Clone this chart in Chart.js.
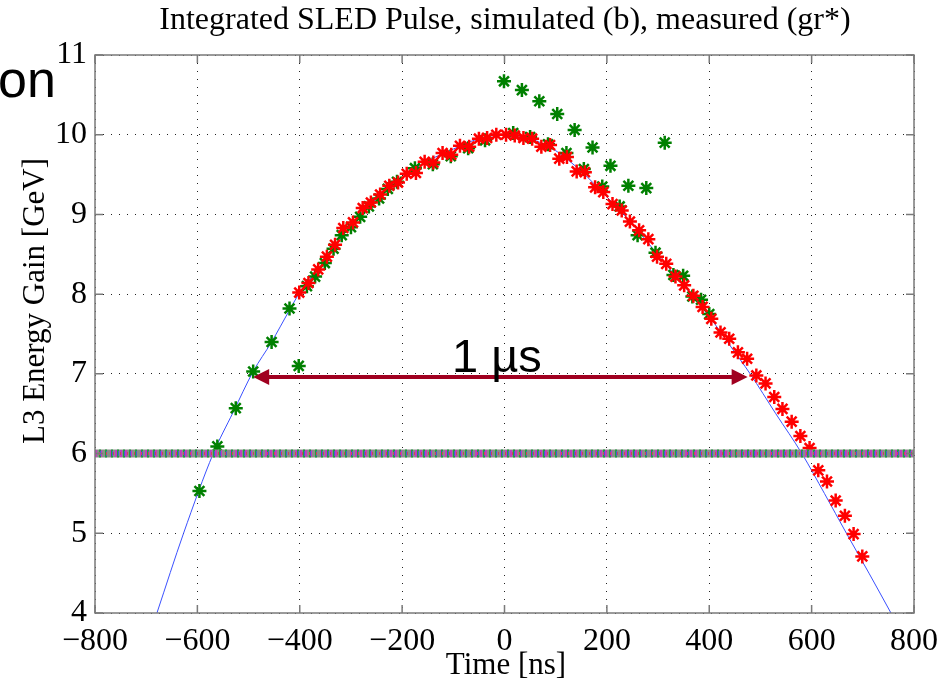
<!DOCTYPE html>
<html>
<head>
<meta charset="utf-8">
<script src="https://cdn.jsdelivr.net/npm/chart.js@4"></script>
<style>
html, body { margin: 0; padding: 0; background: #fff; }
#wrap { width: 939px; height: 682px; position: relative; }
</style>
</head>
<body>
<div id="wrap"><canvas id="c"></canvas></div>
<script>
// tick values
const xTickVals = [-800, -600, -400, -200, 0, 200, 400, 600, 800];
const yTickVals = [4, 5, 6, 7, 8, 9, 10, 11];

// simulated pulse (blue line)
const simT = [-679, -627, -569, -530, -491, -455, -420, -400, -350, -300, -250, -200, -150, -100, -50, 0,
              50, 100, 150, 200, 250, 300, 350, 400, 440, 480, 530, 581, 625, 668, 712, 755];
const simE = [4.0, 5.0, 6.0, 6.52, 7.03, 7.40, 7.80, 8.02, 8.42, 8.87, 9.20, 9.46, 9.67, 9.82, 9.95, 10.0,
              9.95, 9.80, 9.54, 9.22, 8.88, 8.49, 8.11, 7.72, 7.36, 7.00, 6.50, 6.00, 5.50, 5.00, 4.50, 4.00];

// measured, red stars
const redT = [-401, -383, -364, -347, -331, -315, -296, -277, -261, -243, -225, -208, -191, -173, -156, -139,
              -121, -104, -87, -69, -50, -34, -16, 3, 20, 37, 54, 72, 89, 107, 122, 141, 157, 177, 193, 211,
              229, 245, 263, 281, 298, 316, 334, 351, 369, 387, 404, 422, 439, 456, 474, 492, 510, 527, 543,
              561, 578, 596, 613, 630, 647, 665, 682, 699];
const redE = [8.02, 8.14, 8.31, 8.47, 8.62, 8.83, 8.90, 9.08, 9.15, 9.25, 9.36, 9.40, 9.51, 9.52, 9.66, 9.65,
              9.77, 9.75, 9.86, 9.85, 9.95, 9.96, 10.0, 10.0, 9.99, 9.96, 9.95, 9.85, 9.87, 9.70, 9.72, 9.54,
              9.53, 9.34, 9.28, 9.13, 9.05, 8.91, 8.80, 8.69, 8.47, 8.38, 8.22, 8.11, 7.98, 7.84, 7.69, 7.52,
              7.44, 7.27, 7.19, 6.98, 6.88, 6.71, 6.56, 6.40, 6.22, 6.07, 5.79, 5.65, 5.41, 5.22, 4.99, 4.71];

// measured, green stars
const greenT = [-596, -561, -525, -491, -455, -420, -402, -386, -370, -351, -334, -318, -300, -282, -265, -245,
                -228, -210, -175, -140, -105, -71, -38, -1, 17, 34, 50, 68, 85, 103, 121, 137, 155, 172, 191,
                207, 225, 242, 260, 277, 295, 313, 330, 349, 367, 384, 400];
const greenE = [5.53, 6.09, 6.57, 7.03, 7.40, 7.82, 7.10, 8.10, 8.22, 8.39, 8.57, 8.74, 8.84, 8.97, 9.10, 9.20,
                9.32, 9.41, 9.58, 9.63, 9.73, 9.83, 9.93, 10.67, 10.02, 10.56, 9.97, 10.42, 9.88, 10.26, 9.77,
                10.06, 9.57, 9.84, 9.35, 9.61, 9.10, 9.36, 8.74, 9.33, 8.52, 9.90, 8.24, 8.23, 7.97, 7.93, 7.75];

// 6 GeV band and the 1 us arrow
const bandT = [-800, 800];
const bandE = [6, 6];
const arrowT = [-491, 475];
const arrowE = 6.96;

const serif = '"Liberation Serif", "Times New Roman", serif';
const sans = '"Liberation Sans", Arial, sans-serif';

function pts(xs, ys) {
    return xs.map((v, i) => ({ x: v, y: ys[i] }));
}
function fmt(v) {
    return v < 0 ? '\u2212' + Math.abs(v) : String(v);
}

function bandSet(color, width, dash, offset) {
    return {
        type: 'line', data: pts(bandT, bandE), borderColor: color, borderWidth: width,
        borderDash: dash, borderDashOffset: offset || 0, pointRadius: 0, fill: false
    };
}

const deco = {
    id: 'deco',
    afterDatasetsDraw(chart) {
        const { ctx, chartArea: a, scales: { x, y } } = chart;
        ctx.save();

        // arrow
        const ay = y.getPixelForValue(arrowE);
        const x1 = x.getPixelForValue(arrowT[0]);
        const x2 = x.getPixelForValue(arrowT[1]);
        ctx.strokeStyle = '#a00020';
        ctx.fillStyle = '#a00020';
        ctx.lineWidth = 4;
        ctx.beginPath();
        ctx.moveTo(x1 + 10, ay);
        ctx.lineTo(x2 - 10, ay);
        ctx.stroke();
        ctx.beginPath();
        ctx.moveTo(x1, ay); ctx.lineTo(x1 + 16, ay - 8); ctx.lineTo(x1 + 16, ay + 8); ctx.closePath();
        ctx.moveTo(x2, ay); ctx.lineTo(x2 - 16, ay - 8); ctx.lineTo(x2 - 16, ay + 8); ctx.closePath();
        ctx.fill();

        ctx.fillStyle = '#000';
        ctx.font = '47px ' + sans;
        ctx.textAlign = 'center';
        ctx.textBaseline = 'alphabetic';
        ctx.fillText('1 \u00b5s', x.getPixelForValue(-15), y.getPixelForValue(7.02));

        // box and inward ticks
        ctx.strokeStyle = '#7a7a7a';
        ctx.lineWidth = 1.5;
        ctx.strokeRect(a.left, a.top, a.right - a.left, a.bottom - a.top);
        ctx.beginPath();
        xTickVals.forEach(v => {
            const px = x.getPixelForValue(v);
            ctx.moveTo(px, a.bottom); ctx.lineTo(px, a.bottom - 8);
            ctx.moveTo(px, a.top); ctx.lineTo(px, a.top + 8);
        });
        yTickVals.forEach(v => {
            const py = y.getPixelForValue(v);
            ctx.moveTo(a.left, py); ctx.lineTo(a.left + 8, py);
            ctx.moveTo(a.right, py); ctx.lineTo(a.right - 8, py);
        });
        ctx.stroke();
        ctx.restore();
    },
    afterDraw(chart) {
        const { ctx } = chart;
        ctx.save();
        ctx.fillStyle = '#000';
        ctx.textBaseline = 'alphabetic';
        ctx.textAlign = 'center';
        ctx.font = '32px ' + serif;
        ctx.fillText('Integrated SLED Pulse, simulated (b), measured (gr*)', 505, 29);
        ctx.font = '31px ' + serif;
        ctx.fillText('Time [ns]', 506, 674);
        ctx.save();
        ctx.translate(44, 301);
        ctx.rotate(-Math.PI / 2);
        ctx.fillText('L3 Energy Gain [GeV]', 0, 0);
        ctx.restore();
        ctx.textAlign = 'left';
        ctx.font = '52px ' + sans;
        ctx.fillText('on', -2, 97);
        ctx.restore();
    }
};

new Chart(document.getElementById('c'), {
    type: 'scatter',
    data: {
        datasets: [
            // band layers: first in the list is drawn on top
            bandSet('#d04060', 3, [1, 6], 3),
            bandSet('#4060d0', 5, [1, 5], 1),
            bandSet('#20a040', 8, [2, 4], 2),
            bandSet('#c040c0', 7, [2, 3], 0),
            bandSet('#8a8f88', 8, []),
            {
                data: pts(redT, redE), pointStyle: 'star', radius: 7, borderWidth: 2.5,
                borderColor: '#ff0000', backgroundColor: '#ff0000'
            },
            {
                data: pts(greenT, greenE), pointStyle: 'star', radius: 7, borderWidth: 2.5,
                borderColor: '#008000', backgroundColor: '#008000'
            },
            {
                type: 'line', data: pts(simT, simE), borderColor: '#3a50ff', borderWidth: 1,
                pointRadius: 0, cubicInterpolationMode: 'monotone', fill: false
            }
        ]
    },
    options: {
        responsive: true,
        maintainAspectRatio: false,
        animation: false,
        events: [],
        layout: { padding: { top: 55, left: 0, right: 0, bottom: 0 } },
        plugins: { legend: { display: false }, tooltip: { enabled: false } },
        scales: {
            x: {
                type: 'linear', min: -800, max: 800,
                afterBuildTicks: s => { s.ticks = xTickVals.map(v => ({ value: v })); },
                afterFit: s => { s.height = 69; s.paddingLeft = 0; s.paddingRight = 25; },
                grid: { color: '#222', lineWidth: 1, drawTicks: false },
                border: { display: false, dash: [1, 7] },
                ticks: {
                    font: { family: serif, size: 32 }, color: '#000', padding: 9,
                    maxRotation: 0, autoSkip: false, callback: v => fmt(v)
                }
            },
            y: {
                type: 'linear', min: 4, max: 11,
                afterBuildTicks: s => { s.ticks = yTickVals.map(v => ({ value: v })); },
                afterFit: s => { s.width = 95; },
                grid: { color: '#222', lineWidth: 1, drawTicks: false },
                border: { display: false, dash: [1, 7] },
                ticks: {
                    font: { family: serif, size: 32 }, color: '#000', padding: 8,
                    autoSkip: false, callback: v => fmt(v)
                }
            }
        }
    },
    plugins: [deco]
});
</script>
</body>
</html>
